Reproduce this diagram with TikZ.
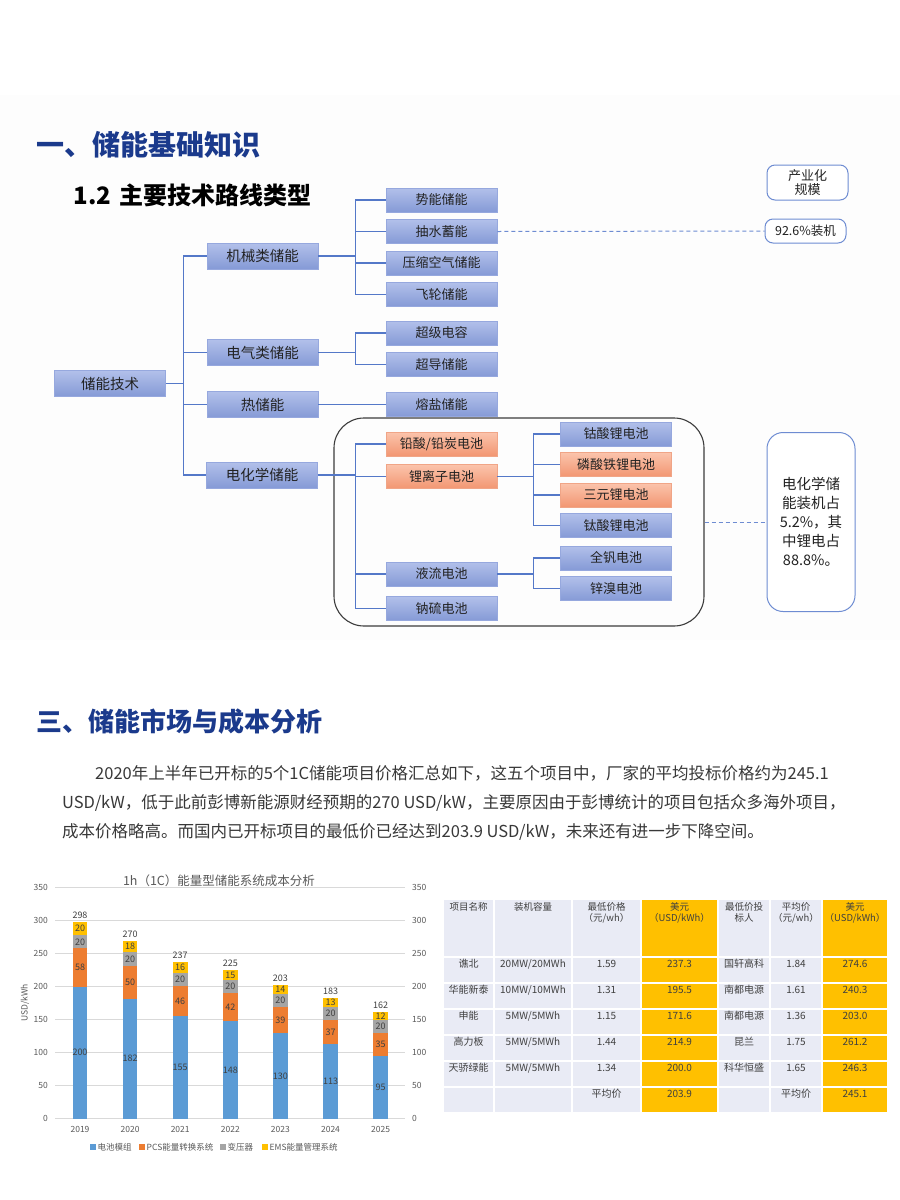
\documentclass[tikz,border=0pt]{standalone}
\usepackage{fontspec}
\setmainfont{Noto Sans CJK SC}
\usepackage{xcolor}
\usetikzlibrary{positioning, calc}
\definecolor{titlenavy}{RGB}{27,58,140}
\definecolor{inkdark}{RGB}{34,34,34}
\definecolor{nodetop}{RGB}{178,192,234}
\definecolor{nodebot}{RGB}{133,154,214}
\definecolor{nodeedge}{RGB}{150,168,222}
\definecolor{hottop}{RGB}{251,196,172}
\definecolor{hotbot}{RGB}{242,150,114}
\definecolor{hotedge}{RGB}{240,165,135}
\definecolor{linkblue}{RGB}{84,120,200}
\definecolor{noteedge}{RGB}{110,140,210}
\definecolor{groupedge}{RGB}{60,60,60}
\definecolor{slidebg}{RGB}{253,253,253}
\definecolor{battblue}{RGB}{91,155,213}
\definecolor{pcsorange}{RGB}{237,125,49}
\definecolor{xfgray}{RGB}{165,165,165}
\definecolor{emsyellow}{RGB}{255,192,0}
\definecolor{axisgray}{RGB}{89,89,89}
\definecolor{gridgray}{RGB}{217,217,217}
\definecolor{cellgray}{RGB}{233,235,245}
\definecolor{tblink}{RGB}{64,64,64}

\begin{document}
\begin{tikzpicture}[x=1pt, y=-1pt,
    catbox/.style={draw=nodeedge, line width=0.5pt, top color=nodetop, bottom color=nodebot,
                   minimum width=111pt, minimum height=26pt, inner sep=2pt, text=inkdark,
                   font=\fontsize{14.5}{16}\selectfont},
    leafbox/.style={catbox, minimum height=24pt, font=\fontsize{13}{15}\selectfont},
    hotbox/.style={leafbox, draw=hotedge, top color=hottop, bottom color=hotbot},
    link/.style={draw=linkblue, line width=1.2pt},
    dashlink/.style={draw=noteedge, line width=1pt, dash pattern=on 4pt off 3pt},
    notebox/.style={draw=noteedge, line width=1pt, rounded corners=8pt, fill=white,
                    align=center, text=inkdark, inner sep=2pt},
    groupbox/.style={draw=groupedge, line width=1.1pt, rounded corners=30pt},
    sectitle/.style={anchor=west, text=titlenavy, font=\fontsize{28}{30}\selectfont\bfseries},
    para/.style={anchor=west, text=inkdark!90, font=\fontsize{16.5}{18}\selectfont, inner sep=0pt},
    axislbl/.style={text=axisgray, font=\fontsize{8.5}{9}\selectfont, inner sep=1pt},
    barlbl/.style={text=tblink, font=\fontsize{9}{10}\selectfont, inner sep=1pt},
    tblhead/.style={anchor=north, align=center, text=tblink, font=\fontsize{9.5}{11}\selectfont, inner sep=1pt},
    tblcell/.style={text=tblink, font=\fontsize{10}{11}\selectfont, inner sep=1pt}
]
    \useasboundingbox (0,0) rectangle (900,1200);
    \fill[white] (0,0) rectangle (900,1200);
    \fill[slidebg] (0,95) rectangle (900,640);

    % 第一部分
    \node[sectitle] (sec1) at (33,145) {一、储能基础知识};
    \node[anchor=west, text=black, font=\fontsize{24}{26}\selectfont\bfseries] (sub1) at (70,195)
        {1.2\hspace{8pt}主要技术路线类型};

    \node[catbox] (root) at (110,383.5) {储能技术};
    \node[catbox] (mech) at (262.5,256) {机械类储能};
    \node[catbox] (elec) at (262.5,352.5) {电气类储能};
    \node[catbox] (heat) at (262.5,404.5) {热储能};
    \node[catbox] (chem) at (262,475) {电化学储能};

    \node[leafbox] (pot) at (441.5,200) {势能储能};
    \node[leafbox, below=7pt of pot] (pump) {抽水蓄能};
    \node[leafbox, below=7pt of pump] (air) {压缩空气储能};
    \node[leafbox, below=7pt of air] (fly) {飞轮储能};
    \node[leafbox] (cap) at (441.5,333) {超级电容};
    \node[leafbox, below=7pt of cap] (smes) {超导储能};
    \node[leafbox] (salt) at (441.5,404.5) {熔盐储能};
    \node[hotbox] (lead) at (441.5,444) {铅酸/铅炭电池};
    \node[hotbox, below=8pt of lead] (liion) {锂离子电池};
    \node[leafbox] (flow) at (441.5,574) {液流电池};
    \node[leafbox, below=10pt of flow] (nas) {钠硫电池};

    \node[leafbox] (lco) at (616,434) {钴酸锂电池};
    \node[hotbox, below=6pt of lco] (lfp) {磷酸铁锂电池};
    \node[hotbox, below=6pt of lfp] (ncm) {三元锂电池};
    \node[leafbox, below=6pt of ncm] (lto) {钛酸锂电池};
    \node[leafbox] (vrb) at (616,558) {全钒电池};
    \node[leafbox, below=6pt of vrb] (znbr) {锌溴电池};

    \node[groupbox, minimum width=370pt, minimum height=208pt] (grp) at (519,522) {};

    \coordinate (b0) at ($(root.east)+(18,0)$);
    \draw[link] (root.east) -- (b0);
    \foreach \n in {mech,elec,heat,chem} \draw[link] (b0) |- (\n.west);
    \coordinate (b1) at ($(mech.east)+(37,0)$);
    \draw[link] (mech.east) -- (b1);
    \foreach \n in {pot,pump,air,fly} \draw[link] (b1) |- (\n.west);
    \coordinate (b2) at ($(elec.east)+(37,0)$);
    \draw[link] (elec.east) -- (b2);
    \foreach \n in {cap,smes} \draw[link] (b2) |- (\n.west);
    \draw[link] (heat.east) -- (salt.west);
    \coordinate (b3) at ($(chem.east)+(37.5,0)$);
    \draw[link] (chem.east) -- (b3);
    \foreach \n in {lead,liion,flow,nas} \draw[link] (b3) |- (\n.west);
    \coordinate (b4) at ($(liion.east)+(36,0)$);
    \draw[link] (liion.east) -- (b4);
    \foreach \n in {lco,lfp,ncm,lto} \draw[link] (b4) |- (\n.west);
    \coordinate (b5) at ($(flow.east)+(36,0)$);
    \draw[link] (flow.east) -- (b5);
    \foreach \n in {vrb,znbr} \draw[link] (b5) |- (\n.west);

    \node[notebox, minimum width=81pt, minimum height=35pt, font=\fontsize{13}{14}\selectfont]
        (scale) at (807.5,182.5) {产业化\\规模};
    \node[notebox, minimum width=81pt, minimum height=24pt, font=\fontsize{12.5}{14}\selectfont]
        (share1) at (805.5,231) {92.6\%装机};
    \node[notebox, rounded corners=16pt, minimum width=88pt, minimum height=179pt,
          font=\fontsize{14.5}{19}\selectfont] (share2) at (811,522)
        {电化学储\\能装机占\\5.2\%，其\\中锂电占\\88.8\%。};
    \draw[dashlink] (pump.east) -- (share1.west);
    \draw[dashlink] (grp.east) -- (share2.west);

    % 第三部分
    \node[sectitle, font=\fontsize{26}{28}\selectfont\bfseries] (sec3) at (33,722) {三、储能市场与成本分析};
    \node[para] (p1) at (95,773)
        {2020年上半年已开标的5个1C储能项目价格汇总如下，这五个项目中，厂家的平均投标价格约为245.1};
    \node[para] (p2) at (62,803)
        {USD/kW，低于此前彭博新能源财经预期的270 USD/kW，主要原因由于彭博统计的项目包括众多海外项目，};
    \node[para] (p3) at (62,832)
        {成本价格略高。而国内已开标项目的最低价已经达到203.9 USD/kW，未来还有进一步下降空间。};

    % 成本柱状图
    \node[text=axisgray, font=\fontsize{12.5}{14}\selectfont] (ctitle) at (219,881)
        {1h（1C）能量型储能系统成本分析};
    \node[axislbl, rotate=90] (yaxis) at (25,1003) {USD/kWh};
    \begin{scope}[shift={(0,1118.7)}, y=0.66pt]
        \foreach \v in {0,50,...,350} {
            \draw[gridgray, line width=0.7pt] (55,\v) -- (405,\v);
            \node[axislbl, anchor=east] (yl\v) at (49,\v) {\v};
            \node[axislbl, anchor=west] (yr\v) at (411,\v) {\v};
        }
        \foreach \i/\yr/\a/\b/\c/\d/\t in {0/2019/200/58/20/20/298, 1/2020/182/50/20/18/270,
                2/2021/155/46/20/16/237, 3/2022/148/42/20/15/225, 4/2023/130/39/20/14/203,
                5/2024/113/37/20/13/183, 6/2025/95/35/20/12/162} {
            \pgfmathsetmacro\bx{80+50.1*\i}
            \pgfmathsetmacro\pcstop{\a+\b}
            \pgfmathsetmacro\xftop{\a+\b+\c}
            \fill[battblue] (\bx-7.3,0) rectangle (\bx+7.3,\a);
            \fill[pcsorange] (\bx-7.3,\a) rectangle (\bx+7.3,\pcstop);
            \fill[xfgray] (\bx-7.3,\pcstop) rectangle (\bx+7.3,\xftop);
            \fill[emsyellow] (\bx-7.3,\xftop) rectangle (\bx+7.3,\t);
            \node[barlbl] (bat\i) at (\bx,\a/2) {\a};
            \node[barlbl] (pcs\i) at (\bx,\a+\b/2) {\b};
            \node[barlbl] (xf\i) at (\bx,\pcstop+\c/2) {\c};
            \node[barlbl] (ems\i) at (\bx,\xftop+\d/2) {\d};
            \node[barlbl, anchor=south] (tot\i) at (\bx,\t+3) {\t};
            \node[axislbl] (yr\i) at (\bx,-16) {\yr};
        }
    \end{scope}
    \foreach \cx/\col/\lbl/\nm in {93/battblue/电池模组/lgA, 142/pcsorange/PCS能量转换系统/lgB,
            223/xfgray/变压器/lgC, 265/emsyellow/EMS能量管理系统/lgD} {
        \fill[\col] (\cx-3,1144) rectangle (\cx+3,1150);
        \node[axislbl, anchor=west] (\nm) at (\cx+3.5,1147) {\lbl};
    }

    % 价格表
    \foreach \xa/\xb in {443/494, 494/572, 572/641, 718/770, 770/822}
        \foreach \ya/\yb in {899/957, 957/983, 983/1009, 1009/1035, 1035/1061, 1061/1087, 1087/1113}
            \fill[cellgray] (\xa+0.8,\ya+0.8) rectangle (\xb-0.8,\yb-0.8);
    \foreach \xa/\xb in {641/718, 822/888}
        \foreach \ya/\yb in {899/957, 957/983, 983/1009, 1009/1035, 1035/1061, 1061/1087, 1087/1113}
            \fill[emsyellow] (\xa+0.8,\ya+0.8) rectangle (\xb-0.8,\yb-0.8);

    \node[tblhead] (h1) at (468.5,901) {项目名称};
    \node[tblhead] (h2) at (533,901) {装机容量};
    \node[tblhead] (h3) at (606.5,901) {最低价格\\（元/wh）};
    \node[tblhead] (h4) at (679.5,901) {美元\\（USD/kWh）};
    \node[tblhead] (h5) at (744,901) {最低价投\\标人};
    \node[tblhead] (h6) at (796,901) {平均价\\（元/wh）};
    \node[tblhead] (h7) at (855,901) {美元\\（USD/kWh）};
    \foreach \r/\ty/\pn/\pc/\lp/\lu/\bid/\ap/\au in {
            1/964/谯北/{20MW/20MWh}/1.59/237.3/国轩高科/1.84/274.6,
            2/990/华能新泰/{10MW/10MWh}/1.31/195.5/南都电源/1.61/240.3,
            3/1016/申能/{5MW/5MWh}/1.15/171.6/南都电源/1.36/203.0,
            4/1042/高力板/{5MW/5MWh}/1.44/214.9/昆兰/1.75/261.2,
            5/1068/天骄绿能/{5MW/5MWh}/1.34/200.0/科华恒盛/1.65/246.3} {
        \node[tblcell] (pn\r) at (468.5,\ty) {\pn};
        \node[tblcell] (pc\r) at (533,\ty) {\pc};
        \node[tblcell] (lp\r) at (606.5,\ty) {\lp};
        \node[tblcell] (lu\r) at (679.5,\ty) {\lu};
        \node[tblcell] (bid\r) at (744,\ty) {\bid};
        \node[tblcell] (ap\r) at (796,\ty) {\ap};
        \node[tblcell] (au\r) at (855,\ty) {\au};
    }
    \node[tblcell] (avg1) at (606.5,1094) {平均价};
    \node[tblcell] (avg1v) at (679.5,1094) {203.9};
    \node[tblcell] (avg2) at (796,1094) {平均价};
    \node[tblcell] (avg2v) at (855,1094) {245.1};
\end{tikzpicture}
\end{document}
